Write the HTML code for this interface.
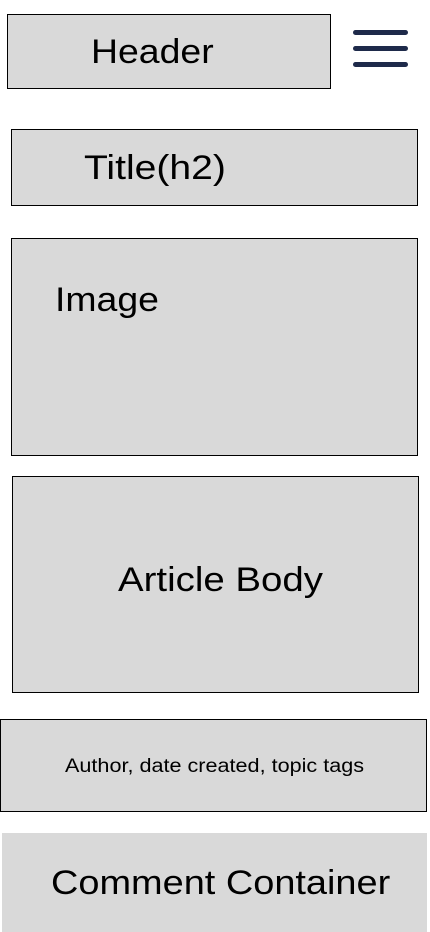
<!DOCTYPE html>
<html><head><meta charset="utf-8"><style>
html,body{margin:0;padding:0;background:#fff;width:430px;height:932px;overflow:hidden;position:relative;font-family:"Liberation Sans",sans-serif;color:#000}
.b{position:absolute;box-sizing:border-box;background:#d9d9d9;border:1px solid #000}
.t{position:absolute;white-space:nowrap;line-height:1;font-size:34px;transform-origin:0 50%}
.l{position:absolute;left:353px;width:55px;height:5px;border-radius:2.5px;background:#1e2a4a}
</style></head><body>
<div class="b" style="left:7px;top:14px;width:324px;height:75px"></div>
<div class="t" style="left:91px;top:35px;transform:scaleX(1.1)">Header</div>
<div class="l" style="top:30px"></div>
<div class="l" style="top:46px"></div>
<div class="l" style="top:62px"></div>
<div class="b" style="left:11px;top:129px;width:407px;height:77px"></div>
<div class="t" style="left:84px;top:151px;transform:scaleX(1.15)">Title(h2)</div>
<div class="b" style="left:11px;top:238px;width:407px;height:218px"></div>
<div class="t" style="left:55px;top:283px;transform:scaleX(1.1)">Image</div>
<div class="b" style="left:12px;top:476px;width:407px;height:217px"></div>
<div class="t" style="left:118px;top:563px;transform:scaleX(1.13)">Article Body</div>
<div class="b" style="left:0px;top:719px;width:427px;height:93px"></div>
<div class="t" style="left:65px;top:757px;font-size:19px;transform:scaleX(1.137)">Author, date created, topic tags</div>
<div class="b" style="left:2px;top:833px;width:425px;height:99px;border:none"></div>
<div class="t" style="left:51px;top:866px;transform:scaleX(1.115)">Comment Container</div>
</body></html>
